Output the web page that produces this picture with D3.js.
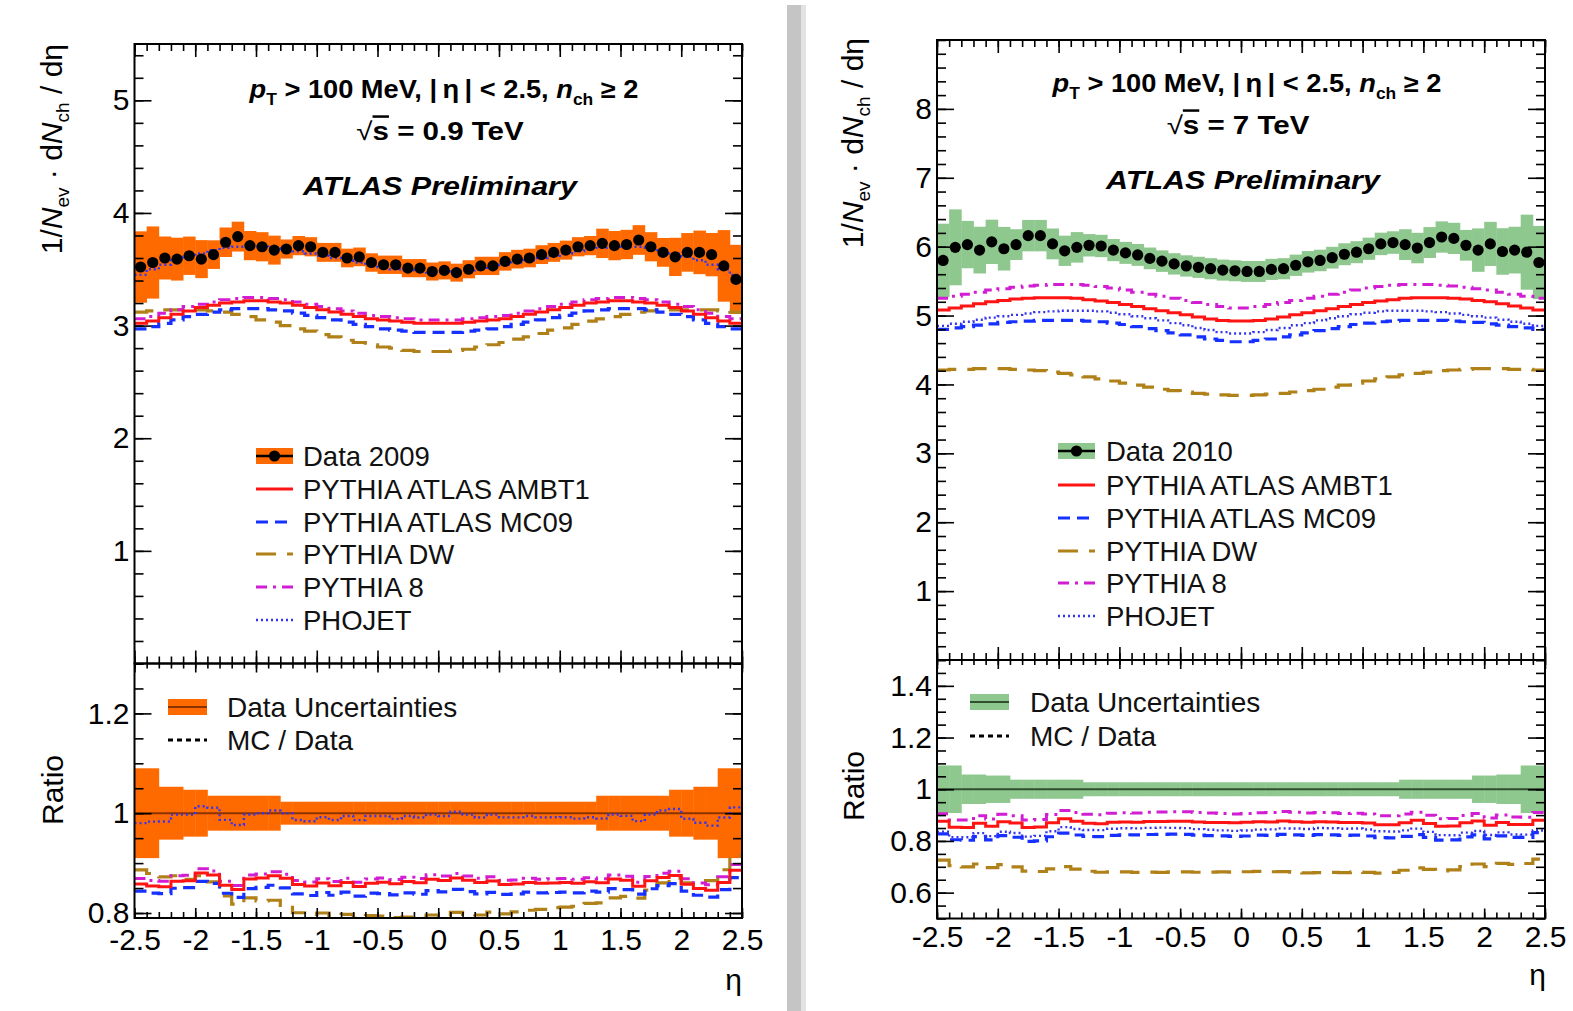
<!DOCTYPE html>
<html>
<head>
<meta charset="utf-8">
<script src="https://cdnjs.cloudflare.com/ajax/libs/d3/7.8.5/d3.min.js"></script>
<style>
  html, body { margin: 0; padding: 0; background: #fff; }
  svg { display: block; font-family: "Liberation Sans", Arial, Helvetica, sans-serif; }
</style>
</head>
<body>
<svg id="fig" width="1573" height="1011"></svg>
<script>
// ---------- pseudorapidity bins (0.1 wide, |eta| < 2.5) ----------
const etaCentres = [-2.45,-2.35,-2.25,-2.15,-2.05,-1.95,-1.85,-1.75,-1.65,-1.55,
  -1.45,-1.35,-1.25,-1.15,-1.05,-0.95,-0.85,-0.75,-0.65,-0.55,
  -0.45,-0.35,-0.25,-0.15,-0.05,0.05,0.15,0.25,0.35,0.45,
  0.55,0.65,0.75,0.85,0.95,1.05,1.15,1.25,1.35,1.45,
  1.55,1.65,1.75,1.85,1.95,2.05,2.15,2.25,2.35,2.45];
const binHalf = 0.05;
const etaTicks = [-2.5,-2,-1.5,-1,-0.5,0,0.5,1,1.5,2,2.5];
const etaTickLabels = ["-2.5","-2","-1.5","-1","-0.5","0","0.5","1","1.5","2","2.5"];

// ---------- sqrt(s) = 0.9 TeV ----------
const data09 = [3.52,3.56,3.60,3.59,3.62,3.59,3.63,3.74,3.79,3.71,
  3.70,3.67,3.68,3.71,3.70,3.65,3.65,3.60,3.61,3.56,
  3.54,3.54,3.51,3.51,3.48,3.49,3.47,3.50,3.53,3.53,
  3.57,3.59,3.60,3.63,3.65,3.67,3.70,3.71,3.73,3.71,
  3.72,3.76,3.70,3.65,3.61,3.65,3.65,3.63,3.53,3.41];
const relErr09 = [0.090,0.090,0.053,0.053,0.047,0.047,0.035,0.035,0.035,0.035,
  0.035,0.035,0.023,0.023,0.023,0.023,0.023,0.023,0.023,0.023,
  0.023,0.023,0.023,0.023,0.023,0.023,0.023,0.023,0.023,0.023,
  0.023,0.023,0.023,0.023,0.023,0.023,0.023,0.023,0.035,0.035,
  0.035,0.035,0.035,0.035,0.047,0.047,0.053,0.053,0.090,0.090];
const ambt1_09 = [3.02,3.04,3.07,3.10,3.13,3.16,3.18,3.20,3.21,3.22,
  3.22,3.21,3.20,3.18,3.16,3.14,3.12,3.10,3.08,3.06,
  3.05,3.04,3.03,3.02,3.02,3.02,3.02,3.03,3.04,3.05,
  3.06,3.08,3.10,3.12,3.14,3.16,3.18,3.20,3.21,3.22,
  3.22,3.21,3.20,3.18,3.16,3.13,3.10,3.07,3.04,3.02];
const mc09_09 = [2.97,2.99,3.02,3.05,3.08,3.10,3.12,3.14,3.15,3.15,
  3.15,3.14,3.13,3.11,3.09,3.07,3.05,3.03,3.01,2.99,
  2.97,2.96,2.95,2.94,2.94,2.94,2.94,2.95,2.96,2.97,
  2.99,3.01,3.03,3.05,3.07,3.09,3.11,3.13,3.14,3.15,
  3.15,3.15,3.14,3.12,3.10,3.08,3.05,3.02,2.99,2.97];
const dw_09 = [3.12,3.13,3.14,3.14,3.14,3.14,3.13,3.12,3.10,3.08,
  3.05,3.03,3.00,2.97,2.95,2.92,2.90,2.87,2.85,2.83,
  2.81,2.80,2.78,2.77,2.77,2.77,2.78,2.79,2.81,2.83,
  2.85,2.88,2.90,2.93,2.96,2.98,3.01,3.04,3.06,3.08,
  3.10,3.12,3.13,3.14,3.14,3.14,3.14,3.14,3.13,3.12];
const py8_09 = [3.06,3.08,3.11,3.14,3.17,3.19,3.21,3.23,3.24,3.25,
  3.25,3.24,3.23,3.21,3.19,3.17,3.15,3.13,3.11,3.09,
  3.08,3.07,3.06,3.05,3.05,3.05,3.05,3.06,3.07,3.08,
  3.09,3.11,3.13,3.15,3.17,3.19,3.21,3.23,3.24,3.25,
  3.25,3.24,3.23,3.21,3.19,3.17,3.14,3.11,3.08,3.06];
const phojet_09 = [3.45,3.50,3.54,3.58,3.61,3.64,3.67,3.69,3.70,3.70,
  3.70,3.69,3.68,3.66,3.64,3.62,3.60,3.58,3.56,3.54,
  3.52,3.50,3.49,3.48,3.47,3.47,3.48,3.49,3.50,3.52,
  3.54,3.56,3.58,3.60,3.62,3.64,3.66,3.68,3.69,3.70,
  3.70,3.70,3.69,3.67,3.64,3.61,3.58,3.54,3.50,3.45];

// ---------- sqrt(s) = 7 TeV ----------
const data7 = [5.80,5.99,6.03,5.95,6.07,5.97,6.03,6.16,6.16,6.04,
  5.94,5.99,6.02,6.01,5.95,5.91,5.88,5.83,5.79,5.75,
  5.72,5.70,5.68,5.66,5.65,5.64,5.64,5.67,5.68,5.73,
  5.78,5.80,5.84,5.89,5.92,5.97,6.04,6.06,6.03,5.98,
  6.06,6.14,6.12,6.02,5.95,6.04,5.93,5.95,5.92,5.77];
const relErr7 = [0.092,0.092,0.057,0.057,0.053,0.053,0.037,0.037,0.037,0.037,
  0.037,0.037,0.027,0.027,0.027,0.027,0.027,0.027,0.027,0.027,
  0.027,0.027,0.027,0.027,0.027,0.027,0.027,0.027,0.027,0.027,
  0.027,0.027,0.027,0.027,0.027,0.027,0.027,0.027,0.037,0.037,
  0.037,0.037,0.037,0.037,0.053,0.053,0.057,0.057,0.092,0.092];
const ambt1_7 = [5.08,5.11,5.14,5.17,5.20,5.22,5.24,5.25,5.26,5.26,
  5.26,5.25,5.23,5.21,5.19,5.16,5.13,5.10,5.07,5.04,
  5.01,4.98,4.95,4.93,4.92,4.92,4.93,4.95,4.98,5.01,
  5.04,5.07,5.10,5.13,5.16,5.19,5.21,5.23,5.25,5.26,
  5.26,5.26,5.25,5.24,5.22,5.20,5.17,5.14,5.11,5.08];
const mc09_7 = [4.80,4.82,4.84,4.86,4.88,4.90,4.91,4.92,4.93,4.93,
  4.93,4.93,4.92,4.91,4.89,4.87,4.84,4.81,4.78,4.75,
  4.72,4.69,4.66,4.64,4.62,4.62,4.64,4.66,4.69,4.72,
  4.75,4.78,4.81,4.84,4.87,4.89,4.91,4.92,4.93,4.93,
  4.93,4.93,4.92,4.91,4.90,4.88,4.86,4.84,4.82,4.80];
const dw_7 = [4.21,4.22,4.22,4.23,4.23,4.23,4.22,4.21,4.20,4.18,
  4.16,4.14,4.11,4.08,4.05,4.02,3.99,3.96,3.93,3.91,
  3.89,3.87,3.86,3.85,3.84,3.84,3.85,3.86,3.87,3.89,
  3.91,3.93,3.96,3.99,4.02,4.05,4.08,4.11,4.14,4.16,
  4.18,4.20,4.21,4.22,4.23,4.23,4.23,4.22,4.22,4.21];
const py8_7 = [5.25,5.28,5.31,5.34,5.37,5.39,5.41,5.43,5.44,5.45,
  5.45,5.45,5.44,5.42,5.40,5.37,5.34,5.31,5.28,5.25,
  5.22,5.19,5.16,5.13,5.11,5.11,5.13,5.16,5.19,5.22,
  5.25,5.28,5.31,5.34,5.37,5.40,5.42,5.44,5.45,5.45,
  5.45,5.44,5.43,5.41,5.39,5.37,5.34,5.31,5.28,5.25];
const phojet_7 = [4.85,4.88,4.91,4.94,4.97,4.99,5.01,5.03,5.05,5.06,
  5.07,5.07,5.07,5.06,5.04,5.02,4.99,4.96,4.93,4.89,
  4.86,4.82,4.79,4.76,4.74,4.74,4.76,4.79,4.82,4.86,
  4.89,4.93,4.96,4.99,5.02,5.04,5.06,5.07,5.07,5.07,
  5.06,5.05,5.03,5.01,4.99,4.97,4.94,4.91,4.88,4.85];

// ---------- axis ticks ----------
const yMajor09 = [1,2,3,4,5], yMajorLabels09 = ["1","2","3","4","5"];
const rMajor09 = [0.8,1,1.2], rMajorLabels09 = ["0.8","1","1.2"];
const yMajor7 = [1,2,3,4,5,6,7,8], yMajorLabels7 = ["1","2","3","4","5","6","7","8"];
const rMajor7 = [0.6,0.8,1,1.2,1.4], rMajorLabels7 = ["0.6","0.8","1","1.2","1.4"];

// ---------- legend texts ----------
const legend09 = ["Data 2009","PYTHIA ATLAS AMBT1","PYTHIA ATLAS MC09","PYTHIA DW","PYTHIA 8","PHOJET"];
const legend7 = ["Data 2010","PYTHIA ATLAS AMBT1","PYTHIA ATLAS MC09","PYTHIA DW","PYTHIA 8","PHOJET"];
const ratioLegend = ["Data Uncertainties","MC / Data"];

// ---------- line styles per generator ----------
const modelStyles = {
  dw:     { color: "#b08019", dash: "20 11", width: 3.2 },
  mc09:   { color: "#1530ff", dash: "12 7", width: 3.2 },
  py8:    { color: "#d21ed2", dash: "11 6 3 6", width: 3 },
  ambt1:  { color: "#ff1414", dash: null, width: 3 },
  phojet: { color: "#3434f0", dash: "2 3", width: 2.4 }
};
const legendOrder = ["ambt1","mc09","dw","py8","phojet"];

const svg = d3.select("#fig");
const defs = svg.append("defs");
svg.append("rect").attr("width", 1573).attr("height", 1011).attr("fill", "#fff");

// grey separator strip between the two figures
svg.append("rect").attr("x", 787).attr("y", 5).attr("width", 14).attr("height", 1006).attr("fill", "#c5c5c5");
svg.append("rect").attr("x", 801).attr("y", 5).attr("width", 5).attr("height", 1006).attr("fill", "#e3e3e3");

const panels = [
  {
    id: "a", xL: 134.5, xR: 742, yTop: 44, yMid: 663.5, yBot: 918,
    yDomain: [0, 5.5], rDomain: [0.79, 1.3],
    yMajor: yMajor09, yMajorLabels: yMajorLabels09, yMinorStep: 0.2,
    rMajor: rMajor09, rMajorLabels: rMajorLabels09, rMinorStep: 0.05,
    data: data09, rel: relErr09, band: "#ff6a00", bandLine: "#8a3300",
    models: { ambt1: ambt1_09, mc09: mc09_09, dw: dw_09, py8: py8_09, phojet: phojet_09 },
    legend: legend09, energy: "0.9 TeV",
    titleX: 62, titleEnd: 44, ratioTitle: [63, 790],
    xLabelPad: 11, etaTitle: [742, 990],
    ann: { cx: 444, b1: 98, cx2: 440, b2: 140, cx3: 440, b3: 195 },
    leg: { sx: 256, tx: 303, rows: [456, 489, 522, 554, 587, 620] },
    rleg: { sx: 168, tx: 227, rows: [707, 740] }
  },
  {
    id: "b", xL: 937, xR: 1545, yTop: 40, yMid: 660, yBot: 918.5,
    yDomain: [0, 9], rDomain: [0.5, 1.5],
    yMajor: yMajor7, yMajorLabels: yMajorLabels7, yMinorStep: 0.2,
    rMajor: rMajor7, rMajorLabels: rMajorLabels7, rMinorStep: 0.05,
    data: data7, rel: relErr7, band: "#8fc88f", bandLine: "#2f4f2f",
    models: { ambt1: ambt1_7, mc09: mc09_7, dw: dw_7, py8: py8_7, phojet: phojet_7 },
    legend: legend7, energy: "7 TeV",
    titleX: 863, titleEnd: 38, ratioTitle: [864, 786],
    xLabelPad: 7, etaTitle: [1546, 985],
    ann: { cx: 1247, b1: 92, cx2: 1238, b2: 134, cx3: 1243, b3: 189 },
    leg: { sx: 1058, tx: 1106, rows: [451, 485, 518, 551, 583, 616] },
    rleg: { sx: 970, tx: 1030, rows: [702, 736] }
  }
];

function minorTicks(domain, step) {
  const out = [];
  const n0 = Math.ceil(domain[0] / step - 1e-6), n1 = Math.floor(domain[1] / step + 1e-6);
  for (let k = n0; k <= n1; k++) out.push(+(k * step).toFixed(4));
  return out;
}
const etaMinor = minorTicks([-2.5, 2.5], 0.1);

function styleAxis(g, withText) {
  g.select(".domain").remove();
  g.selectAll(".tick line").attr("stroke", "#000").attr("stroke-width", 1.6);
  if (withText) {
    g.selectAll(".tick text").attr("fill", "#000").attr("font-size", 30)
      .attr("font-family", '"Liberation Sans", Arial, sans-serif');
  } else {
    g.selectAll(".tick text").remove();
  }
}

function drawPanel(p) {
  const x = d3.scaleLinear().domain([-2.5, 2.5]).range([p.xL, p.xR]);
  const y = d3.scaleLinear().domain(p.yDomain).range([p.yMid, p.yTop]);
  const r = d3.scaleLinear().domain(p.rDomain).range([p.yBot, p.yMid]);
  const g = svg.append("g");

  defs.append("clipPath").attr("id", "cu" + p.id).append("rect")
    .attr("x", p.xL).attr("y", p.yTop).attr("width", p.xR - p.xL).attr("height", p.yMid - p.yTop);
  defs.append("clipPath").attr("id", "cr" + p.id).append("rect")
    .attr("x", p.xL).attr("y", p.yMid).attr("width", p.xR - p.xL).attr("height", p.yBot - p.yMid);

  const stepPts = vals => vals.flatMap((v, i) => [[etaCentres[i] - binHalf, v], [etaCentres[i] + binHalf, v]]);

  // ----- upper pad -----
  const up = g.append("g").attr("clip-path", `url(#cu${p.id})`);
  up.selectAll("rect.band").data(etaCentres).join("rect").attr("class", "band")
    .attr("x", c => x(c - binHalf)).attr("width", c => x(c + binHalf) - x(c - binHalf) + 0.4)
    .attr("y", (c, i) => y(p.data[i] * (1 + p.rel[i])))
    .attr("height", (c, i) => y(p.data[i] * (1 - p.rel[i])) - y(p.data[i] * (1 + p.rel[i])))
    .attr("fill", p.band);

  const lineU = d3.line().x(d => x(d[0])).y(d => y(d[1]));
  ["dw", "mc09", "py8", "ambt1", "phojet"].forEach(k => {
    const s = modelStyles[k];
    up.append("path").attr("d", lineU(stepPts(p.models[k])))
      .attr("fill", "none").attr("stroke", s.color).attr("stroke-width", s.width)
      .attr("stroke-dasharray", s.dash);
  });
  up.selectAll("circle.pt").data(etaCentres).join("circle").attr("class", "pt")
    .attr("cx", c => x(c)).attr("cy", (c, i) => y(p.data[i])).attr("r", 5.6).attr("fill", "#000");

  // ----- ratio pad -----
  const rp = g.append("g").attr("clip-path", `url(#cr${p.id})`);
  rp.selectAll("rect.rband").data(etaCentres).join("rect").attr("class", "rband")
    .attr("x", c => x(c - binHalf)).attr("width", c => x(c + binHalf) - x(c - binHalf) + 0.4)
    .attr("y", (c, i) => r(1 + p.rel[i]))
    .attr("height", (c, i) => r(1 - p.rel[i]) - r(1 + p.rel[i]))
    .attr("fill", p.band);
  rp.append("line").attr("x1", p.xL).attr("x2", p.xR).attr("y1", r(1)).attr("y2", r(1))
    .attr("stroke", p.bandLine).attr("stroke-width", 2);
  const lineR = d3.line().x(d => x(d[0])).y(d => r(d[1]));
  ["dw", "mc09", "py8", "ambt1", "phojet"].forEach(k => {
    const s = modelStyles[k];
    const ratio = p.models[k].map((v, i) => v / p.data[i]);
    rp.append("path").attr("d", lineR(stepPts(ratio)))
      .attr("fill", "none").attr("stroke", s.color).attr("stroke-width", s.width)
      .attr("stroke-dasharray", s.dash);
  });

  // ----- axes (ticks on all four sides, pointing inwards) -----
  const ax = (axis, tx, ty, withText) => {
    const a = g.append("g").attr("transform", `translate(${tx},${ty})`).call(axis);
    styleAxis(a, withText);
    return a;
  };
  // x ticks: top of upper pad, shared boundary, bottom of ratio pad
  ax(d3.axisBottom(x).tickValues(etaTicks).tickSizeInner(13).tickSizeOuter(0), 0, p.yTop, false);
  ax(d3.axisBottom(x).tickValues(etaMinor).tickSizeInner(7).tickSizeOuter(0), 0, p.yTop, false);
  ax(d3.axisTop(x).tickValues(etaTicks).tickSizeInner(13).tickSizeOuter(0), 0, p.yMid, false);
  ax(d3.axisTop(x).tickValues(etaMinor).tickSizeInner(7).tickSizeOuter(0), 0, p.yMid, false);
  ax(d3.axisBottom(x).tickValues(etaTicks).tickSizeInner(9).tickSizeOuter(0), 0, p.yMid, false);
  ax(d3.axisBottom(x).tickValues(etaMinor).tickSizeInner(5).tickSizeOuter(0), 0, p.yMid, false);
  ax(d3.axisBottom(x).tickValues(etaTicks).tickSizeInner(-10).tickSizeOuter(0).tickPadding(p.xLabelPad)
      .tickFormat((d, i) => etaTickLabels[i]), 0, p.yBot, true);
  ax(d3.axisBottom(x).tickValues(etaMinor).tickSizeInner(-6).tickSizeOuter(0), 0, p.yBot, false);

  // y ticks, upper pad
  const yMinor = minorTicks(p.yDomain, p.yMinorStep);
  ax(d3.axisLeft(y).tickValues(p.yMajor).tickSizeInner(-17).tickSizeOuter(0).tickPadding(5)
      .tickFormat((d, i) => p.yMajorLabels[i]), p.xL, 0, true);
  ax(d3.axisLeft(y).tickValues(yMinor).tickSizeInner(-9).tickSizeOuter(0), p.xL, 0, false);
  ax(d3.axisLeft(y).tickValues(p.yMajor).tickSizeInner(17).tickSizeOuter(0), p.xR, 0, false);
  ax(d3.axisLeft(y).tickValues(yMinor).tickSizeInner(9).tickSizeOuter(0), p.xR, 0, false);

  // y ticks, ratio pad
  const rMinor = minorTicks(p.rDomain, p.rMinorStep);
  ax(d3.axisLeft(r).tickValues(p.rMajor).tickSizeInner(-17).tickSizeOuter(0).tickPadding(5)
      .tickFormat((d, i) => p.rMajorLabels[i]), p.xL, 0, true);
  ax(d3.axisLeft(r).tickValues(rMinor).tickSizeInner(-9).tickSizeOuter(0), p.xL, 0, false);
  ax(d3.axisLeft(r).tickValues(p.rMajor).tickSizeInner(17).tickSizeOuter(0), p.xR, 0, false);
  ax(d3.axisLeft(r).tickValues(rMinor).tickSizeInner(9).tickSizeOuter(0), p.xR, 0, false);

  // frames
  g.append("rect").attr("x", p.xL).attr("y", p.yTop).attr("width", p.xR - p.xL).attr("height", p.yMid - p.yTop)
    .attr("fill", "none").attr("stroke", "#000").attr("stroke-width", 2);
  g.append("rect").attr("x", p.xL).attr("y", p.yMid).attr("width", p.xR - p.xL).attr("height", p.yBot - p.yMid)
    .attr("fill", "none").attr("stroke", "#000").attr("stroke-width", 2);

  // ----- axis titles -----
  const yt = g.append("text").attr("transform", `translate(${p.titleX},${p.titleEnd}) rotate(-90)`)
    .attr("text-anchor", "end").attr("font-size", 30).attr("fill", "#000");
  yt.append("tspan").text("1/");
  yt.append("tspan").attr("font-style", "italic").text("N");
  yt.append("tspan").attr("font-size", 19).attr("dy", 7).text("ev");
  yt.append("tspan").attr("dy", -7).text(" \u00b7 d");
  yt.append("tspan").attr("font-style", "italic").text("N");
  yt.append("tspan").attr("font-size", 19).attr("dy", 7).text("ch");
  yt.append("tspan").attr("dy", -7).text(" / d\u03b7");

  g.append("text").attr("transform", `translate(${p.ratioTitle[0]},${p.ratioTitle[1]}) rotate(-90)`)
    .attr("text-anchor", "middle").attr("font-size", 30).attr("fill", "#000").text("Ratio");
  g.append("text").attr("x", p.etaTitle[0]).attr("y", p.etaTitle[1])
    .attr("text-anchor", "end").attr("font-size", 30).attr("fill", "#000").text("\u03b7");

  // ----- annotations -----
  const t1 = g.append("g").attr("transform", `translate(${p.ann.cx},${p.ann.b1}) scale(1.09,1)`)
    .append("text").attr("text-anchor", "middle").attr("font-size", 25).attr("font-weight", "bold").attr("fill", "#000");
  t1.append("tspan").attr("font-style", "italic").text("p");
  t1.append("tspan").attr("font-size", 16).attr("dy", 7).text("T");
  t1.append("tspan").attr("dy", -7).text(" > 100 MeV, |\u2009\u03b7\u2009| < 2.5, ");
  t1.append("tspan").attr("font-style", "italic").text("n");
  t1.append("tspan").attr("font-size", 16).attr("dy", 7).text("ch");
  t1.append("tspan").attr("dy", -7).text(" \u2265 2");

  const t2 = g.append("g").attr("transform", `translate(${p.ann.cx2},${p.ann.b2}) scale(1.18,1)`)
    .append("text").attr("text-anchor", "middle").attr("font-size", 25).attr("font-weight", "bold").attr("fill", "#000");
  t2.append("tspan").attr("font-weight", "normal").text("\u221a");
  t2.append("tspan").attr("text-decoration", "overline").text("s");
  t2.append("tspan").text(" = " + p.energy);

  g.append("g").attr("transform", `translate(${p.ann.cx3},${p.ann.b3}) scale(1.22,1)`)
    .append("text").attr("text-anchor", "middle").attr("font-size", 25).attr("font-weight", "bold")
    .attr("font-style", "italic").attr("fill", "#000").text("ATLAS Preliminary");

  // ----- legend, upper pad -----
  const L = p.leg, sw = 37;
  const lg = g.append("g");
  const r0 = L.rows[0];
  lg.append("rect").attr("x", L.sx).attr("y", r0 - 8).attr("width", sw).attr("height", 16).attr("fill", p.band);
  lg.append("line").attr("x1", L.sx).attr("x2", L.sx + sw).attr("y1", r0).attr("y2", r0)
    .attr("stroke", "#000").attr("stroke-width", 2.5);
  lg.append("circle").attr("cx", L.sx + sw / 2).attr("cy", r0).attr("r", 5.6).attr("fill", "#000");
  legendOrder.forEach((k, j) => {
    const s = modelStyles[k], yy = L.rows[j + 1];
    lg.append("line").attr("x1", L.sx).attr("x2", L.sx + sw).attr("y1", yy).attr("y2", yy)
      .attr("stroke", s.color).attr("stroke-width", s.width).attr("stroke-dasharray", s.dash);
  });
  p.legend.forEach((t, j) => {
    lg.append("text").attr("x", L.tx).attr("y", L.rows[j]).attr("dy", "0.35em")
      .attr("font-size", 27.5).attr("fill", "#111").text(t);
  });

  // ----- legend, ratio pad -----
  const R = p.rleg, rw = 39;
  lg.append("rect").attr("x", R.sx).attr("y", R.rows[0] - 8).attr("width", rw).attr("height", 16).attr("fill", p.band);
  lg.append("line").attr("x1", R.sx).attr("x2", R.sx + rw).attr("y1", R.rows[0]).attr("y2", R.rows[0])
    .attr("stroke", p.bandLine).attr("stroke-width", 2);
  lg.append("line").attr("x1", R.sx).attr("x2", R.sx + rw).attr("y1", R.rows[1]).attr("y2", R.rows[1])
    .attr("stroke", "#000").attr("stroke-width", 3).attr("stroke-dasharray", "5 4");
  ratioLegend.forEach((t, j) => {
    lg.append("text").attr("x", R.tx).attr("y", R.rows[j]).attr("dy", "0.35em")
      .attr("font-size", 28).attr("fill", "#111").text(t);
  });
}

panels.forEach(drawPanel);
</script>
</body>
</html>
